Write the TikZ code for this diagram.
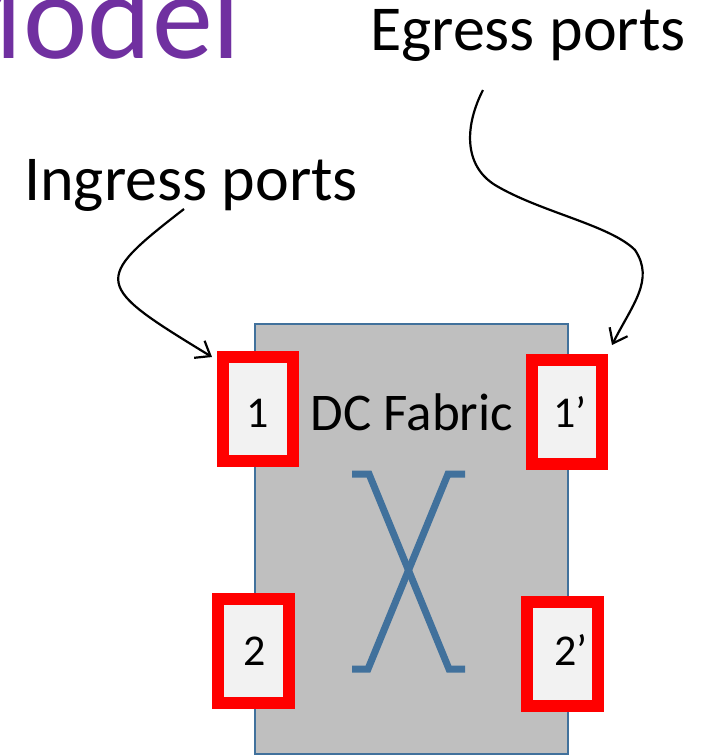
\documentclass[tikz,border=0pt]{standalone}
\usepackage{fontspec}
\setmainfont{Carlito}
\usetikzlibrary{arrows.meta}
\definecolor{fabgray}{RGB}{191,191,191}
\definecolor{fabblue}{RGB}{65,113,156}
\definecolor{portred}{RGB}{255,0,0}
\definecolor{portfill}{RGB}{242,242,242}
\definecolor{titlepurple}{RGB}{112,48,160}
\tikzset{
  fabric/.style={draw=fabblue, line width=2pt, fill=fabgray, inner sep=0pt, outer sep=0pt},
  portbox/.style={draw=portred, line width=12pt, fill=portfill, inner sep=0pt, outer sep=0pt},
  portlabel/.style={anchor=base, inner sep=0pt, font=\fontsize{44}{50}\selectfont},
  biglabel/.style={anchor=base west, inner sep=0pt, font=\fontsize{64}{70}\selectfont},
  xbar/.style={draw=fabblue, line width=7pt, miter limit=10},
  pointer/.style={draw=black, line width=2.2pt, -{Straight Barb[length=13pt,width=20pt,line width=2.2pt]}}
}
\begin{document}
\begin{tikzpicture}[x=1pt,y=-1pt]
\useasboundingbox (0,0) rectangle (717,756);
\clip (0,0) rectangle (717,756);
% title fragment
\node[anchor=base east, inner sep=0pt, text=titlepurple, font=\fontsize{122}{130}\selectfont] (title) at (241,58) {Model};
% fabric
\node[fabric, minimum width=313pt, minimum height=430pt] (fab) at (411.5,539) {};
\node[anchor=base, inner sep=0pt, font=\fontsize{53}{60}\selectfont] (fablabel) at (412,430) {DC Fabric};
% crossbar
\draw[xbar] (352,474) -- (369,474) -- (449,669) -- (465,669);
\draw[xbar] (465,474) -- (448,474) -- (368,669) -- (352,669);
% ports
\node[portbox, minimum width=70.5pt, minimum height=104.5pt] (p1) at (258,409) {};
\node[portbox, minimum width=70pt, minimum height=104pt] (q1) at (567,412) {};
\node[portbox, minimum width=71pt, minimum height=104pt] (p2) at (253.5,651) {};
\node[portbox, minimum width=71pt, minimum height=104pt] (q2) at (562.5,654) {};
\node[portlabel] (p1l) at (258,427) {1};
\node[portlabel] (q1l) at (570,427) {1’};
\node[portlabel] (p2l) at (255,665) {2};
\node[portlabel] (q2l) at (571,665) {2’};
% labels
\node[biglabel] (ing) at (24,200) {Ingress ports};
\node[biglabel] (egr) at (370,50) {Egress ports};
% arrows
\coordinate (ingS) at (184,209);
\coordinate (ingT) at (212,357);
\coordinate (egrS) at (483,90);
\coordinate (egrT) at (612,345);
\draw[pointer] (ingS) .. controls (91,281) and (94,285) .. (ingT);
\draw[pointer] (egrS) .. controls (465,125) and (463,165) .. (495,185)
  .. controls (540,212) and (610,225) .. (635,250)
  .. controls (655,280) and (632,305) .. (egrT);
\end{tikzpicture}
\end{document}
